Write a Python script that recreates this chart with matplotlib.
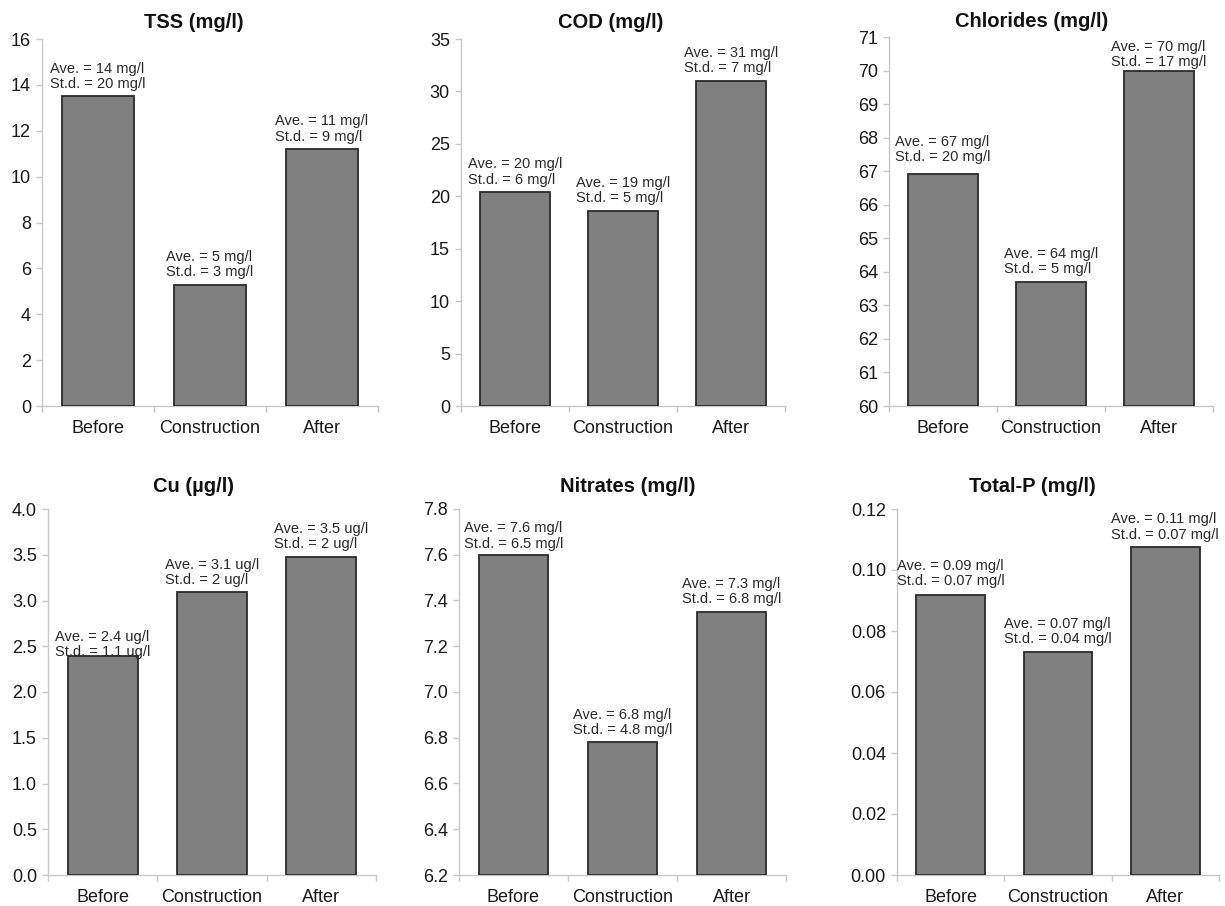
import matplotlib
matplotlib.use("Agg")
import matplotlib.pyplot as plt
from matplotlib.ticker import FormatStrFormatter, FixedLocator

plt.rcParams['font.family'] = ['Liberation Sans', 'DejaVu Sans']

categories = ["Before", "Construction", "After"]

titles = ["TSS (mg/l)", "COD (mg/l)", "Chlorides (mg/l)",
          "Cu (\u00b5g/l)", "Nitrates (mg/l)", "Total-P (mg/l)"]

tss = [13.5, 5.28, 11.2]
cod = [20.4, 18.6, 31.0]
chlorides = [66.92, 63.7, 70.0]
cu = [2.39, 3.09, 3.48]
nitrates = [7.60, 6.78, 7.35]
total_p = [0.0918, 0.0731, 0.1075]

tss_ave = ["14 mg/l", "5 mg/l", "11 mg/l"]
tss_std = ["20 mg/l", "3 mg/l", "9 mg/l"]
cod_ave = ["20 mg/l", "19 mg/l", "31 mg/l"]
cod_std = ["6 mg/l", "5 mg/l", "7 mg/l"]
chl_ave = ["67 mg/l", "64 mg/l", "70 mg/l"]
chl_std = ["20 mg/l", "5 mg/l", "17 mg/l"]
cu_ave = ["2.4 ug/l", "3.1 ug/l", "3.5 ug/l"]
cu_std = ["1.1 ug/l", "2 ug/l", "2 ug/l"]
nit_ave = ["7.6 mg/l", "6.8 mg/l", "7.3 mg/l"]
nit_std = ["6.5 mg/l", "4.8 mg/l", "6.8 mg/l"]
tp_ave = ["0.09 mg/l", "0.07 mg/l", "0.11 mg/l"]
tp_std = ["0.07 mg/l", "0.04 mg/l", "0.07 mg/l"]

ylims = [(0, 16), (0, 35), (60, 71), (0, 4.0), (6.2, 7.8), (0, 0.12)]
ysteps = [2, 5, 1, 0.5, 0.2, 0.02]
yfmts = ["%d", "%d", "%d", "%.1f", "%.1f", "%.2f"]

values = [tss, cod, chlorides, cu, nitrates, total_p]
aves = [tss_ave, cod_ave, chl_ave, cu_ave, nit_ave, tp_ave]
stds = [tss_std, cod_std, chl_std, cu_std, nit_std, tp_std]

W, H = 1225, 906
fig = plt.figure(figsize=(W / 100, H / 100), dpi=100)

# axes boxes in pixels: left, right, top, bottom
boxes = [(42, 378, 39, 406), (461, 785, 39, 406), (889, 1213, 37, 406),
         (48, 376, 509, 875), (459, 786, 509, 875), (897, 1219, 509, 875)]
title_x = [0.452, 0.463, 0.441, 0.445, 0.517, 0.42]
title_pad = [8, 8, 7, 12, 12, 12]
# annotation vertical offsets (points) per bar
offsets = [[4, 4, 4], [4, 4, 4], [7, 4, 1], [-2, 4, 4], [3, 4, 4], [5, 4, 4]]

axis_col = "#c8c8c8"
text_col = "#1a1a1a"

for i in range(6):
    l, r, t, b = boxes[i]
    ax = fig.add_axes([l / W, 1 - b / H, (r - l) / W, (b - t) / H])
    x = list(range(len(categories)))
    lo, hi = ylims[i]
    ax.bar(x, [v - lo for v in values[i]], width=0.64, bottom=lo,
           color="#808080", edgecolor="#2b2b2b", linewidth=1.3, zorder=3)
    ax.set_ylim(lo, hi)
    ax.set_xlim(-0.5, 2.5)
    n = int(round((hi - lo) / ysteps[i]))
    ax.yaxis.set_major_locator(FixedLocator([lo + k * ysteps[i] for k in range(n + 1)]))
    ax.yaxis.set_major_formatter(FormatStrFormatter(yfmts[i]))
    ax.set_xticks(x)
    ax.set_xticklabels(categories)
    ax.set_xticks([-0.5, 0.5, 1.5, 2.5], minor=True)
    ax.tick_params(axis='x', which='major', length=0, pad=10, labelsize=13,
                   labelcolor=text_col)
    ax.tick_params(axis='x', which='minor', length=4, color=axis_col, width=1)
    ax.tick_params(axis='y', which='major', length=4, color=axis_col, width=1,
                   pad=4, labelsize=13, labelcolor=text_col)
    for s in ['top', 'right']:
        ax.spines[s].set_visible(False)
    for s in ['left', 'bottom']:
        ax.spines[s].set_color(axis_col)
        ax.spines[s].set_linewidth(1)
    ax.set_title(titles[i], fontsize=14.5, fontweight='bold', x=title_x[i],
                 pad=title_pad[i], color="#111111")
    for j in x:
        ax.annotate("Ave. = %s\nSt.d. = %s" % (aves[i][j], stds[i][j]),
                    xy=(j, values[i][j]), xytext=(0, offsets[i][j]),
                    textcoords='offset points', ha='center', va='bottom',
                    multialignment='left', fontsize=10.5, color="#2a2a2a",
                    linespacing=1.1, zorder=4)

fig.savefig("out.png", dpi=100)
